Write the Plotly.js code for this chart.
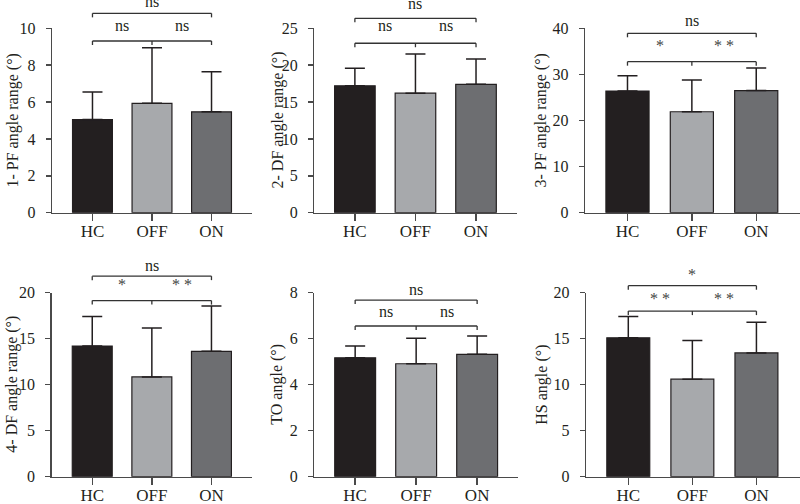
<!DOCTYPE html>
<html>
<head>
<meta charset="utf-8">
<script src="https://cdn.plot.ly/plotly-3.0.1.min.js"></script>
<style>html,body{margin:0;padding:0;background:#fff;}#chart{width:800px;height:504px;}</style>
</head>
<body>
<div id="chart"></div>
<script>
// ---------- data ----------
const categories = ['HC', 'OFF', 'ON'];

const pfRange1 = [5.05, 5.93, 5.47];
const pfRange1Err = [1.5, 3.02, 2.18];
const dfRange2 = [17.2, 16.2, 17.4];
const dfRange2Err = [2.4, 5.3, 3.45];
const pfRange3 = [26.4, 21.9, 26.5];
const pfRange3Err = [3.3, 6.9, 4.9];
const dfRange4 = [14.2, 10.84, 13.63];
const dfRange4Err = [3.2, 5.32, 4.92];
const toAngle = [5.17, 4.91, 5.32];
const toAngleErr = [0.51, 1.11, 0.8];
const hsAngle = [15.1, 10.6, 13.45];
const hsAngleErr = [2.3, 4.2, 3.35];

// significance: [HC vs OFF, OFF vs ON, HC vs ON]
const sig1 = ['ns', 'ns', 'ns'];
const sig2 = ['ns', 'ns', 'ns'];
const sig3 = ['*', '**', 'ns'];
const sig4 = ['*', '**', 'ns'];
const sig5 = ['ns', 'ns', 'ns'];
const sig6 = ['**', '**', '*'];

const yTitles = ['1- PF angle range (°)', '2- DF angle range (°)', '3- PF angle range (°)',
                 '4- DF angle range (°)', 'TO angle (°)', 'HS angle (°)'];
const yMax = [10, 25, 40, 20, 8, 20];
const yDtick = [2, 5, 10, 5, 2, 5];

// ---------- layout / style ----------
const W = 800, H = 504;
const barColors = ['#231f20', '#a7a9ac', '#6d6e71'];
const ink = '#231f20';
const axisColor = '#4a4a4a';
const FONT = 'Liberation Serif, Times New Roman, serif';

const series = [
  [pfRange1, pfRange1Err], [dfRange2, dfRange2Err], [pfRange3, pfRange3Err],
  [dfRange4, dfRange4Err], [toAngle, toAngleErr], [hsAngle, hsAngleErr]
];
const sigs = [sig1, sig2, sig3, sig4, sig5, sig6];

const geo = [
  {left: 52, right: 252, top: 28.3, bottom: 212.7, range: [-0.68, 2.68], titleX: 12, upY: 1.081, loY: 0.931, upLab: 1.143, loLab: 1.014},
  {left: 314.3, right: 516.6, top: 28.3, bottom: 212.7, range: [-0.67, 2.67], titleX: 277, upY: 1.054, loY: 0.919, upLab: 1.137, loLab: 1.014},
  {left: 585, right: 800, top: 28.3, bottom: 212.7, range: [-0.66, 2.68], titleX: 540, upY: 0.973, loY: 0.819, upLab: 1.041, loLab: 0.909},
  {left: 51.7, right: 252, top: 292.7, bottom: 476.7, range: [-0.68, 2.68], titleX: 12, upY: 1.09, loY: 0.957, upLab: 1.15, loLab: 1.042},
  {left: 314.3, right: 518, top: 292.7, bottom: 476.7, range: [-0.67, 2.67], titleX: 277, upY: 0.96, loY: 0.819, upLab: 1.018, loLab: 0.897},
  {left: 586, right: 800, top: 292.7, bottom: 476.7, range: [-0.66, 2.68], titleX: 542, upY: 1.038, loY: 0.90, upLab: 1.10, loLab: 0.97}
];

const traces = [];
const layout = {
  width: W, height: H,
  margin: {l: 0, r: 0, t: 0, b: 0},
  paper_bgcolor: '#fff', plot_bgcolor: '#fff',
  showlegend: false,
  font: {family: FONT, color: ink, size: 16},
  shapes: [], annotations: []
};

geo.forEach((g, k) => {
  const n = k === 0 ? '' : String(k + 1);
  const xa = 'x' + n, ya = 'y' + n;
  const [vals, errs] = series[k];
  traces.push({
    type: 'bar', x: categories, y: vals, xaxis: xa, yaxis: ya, width: 0.67,
    marker: {color: barColors, line: {color: ink, width: 1.2}},
    error_y: {type: 'data', symmetric: false, array: errs, arrayminus: errs.map(() => 0),
              color: ink, thickness: 1.5, width: 10},
    hoverinfo: 'skip'
  });
  layout['xaxis' + n] = {
    domain: [g.left / W, g.right / W], range: g.range, anchor: ya,
    type: 'category', showline: true, linecolor: axisColor, linewidth: 1.4,
    ticks: 'outside', ticklen: 7, tickwidth: 1.4, tickcolor: axisColor,
    showgrid: false, zeroline: false, fixedrange: true,
    tickfont: {family: FONT, size: 17, color: ink}, ticklabelstandoff: -5
  };
  layout['yaxis' + n] = {
    domain: [1 - g.bottom / H, 1 - g.top / H], range: [0, yMax[k]], anchor: xa,
    dtick: yDtick[k], tick0: 0, showline: true, linecolor: axisColor, linewidth: 1.4,
    ticks: 'outside', ticklen: 5, tickwidth: 1.4, tickcolor: axisColor,
    showgrid: false, zeroline: false, fixedrange: true,
    tickfont: {family: FONT, size: 16, color: ink}, ticklabelstandoff: 7
  };
  // y title
  layout.annotations.push({
    xref: 'paper', yref: 'paper', x: g.titleX / W, y: 1 - ((g.top + g.bottom) / 2) / H,
    text: yTitles[k], textangle: -90, showarrow: false, xanchor: 'center', yanchor: 'middle',
    font: {family: FONT, size: 16, color: ink}
  });
  // brackets
  const xr = 'x' + n + ' domain', yr = 'y' + n + ' domain';
  const fx = i => (i - g.range[0]) / (g.range[1] - g.range[0]);
  const tick = 4 / (g.bottom - g.top);
  const line = (x0, y0, x1, y1) => layout.shapes.push({type: 'line', xref: xr, yref: yr,
    x0: x0, y0: y0, x1: x1, y1: y1, line: {color: '#333', width: 1.3}});
  // upper (HC vs ON)
  line(fx(0), g.upY, fx(2), g.upY);
  line(fx(0), g.upY, fx(0), g.upY - tick);
  line(fx(2), g.upY, fx(2), g.upY - tick);
  // lower (HC vs OFF, OFF vs ON)
  line(fx(0), g.loY, fx(2), g.loY);
  line(fx(0), g.loY, fx(0), g.loY - tick);
  line(fx(1), g.loY, fx(1), g.loY - tick);
  line(fx(2), g.loY, fx(2), g.loY - tick);
  const lab = (x, y, t) => {
    const star = t.indexOf('*') >= 0;
    layout.annotations.push({xref: xa, yref: yr, x: x, y: y, text: star ? t.split('').join(' ') : t,
      showarrow: false, xanchor: 'center', yanchor: 'middle',
      font: {family: FONT, size: 16, color: star ? '#444' : ink}});
  };
  const s = sigs[k];
  lab(0.5, g.loLab, s[0]);
  lab(1.5, g.loLab, s[1]);
  lab(1, g.upLab, s[2]);
});

Plotly.newPlot('chart', traces, layout, {staticPlot: true, displayModeBar: false});
</script>
</body>
</html>
